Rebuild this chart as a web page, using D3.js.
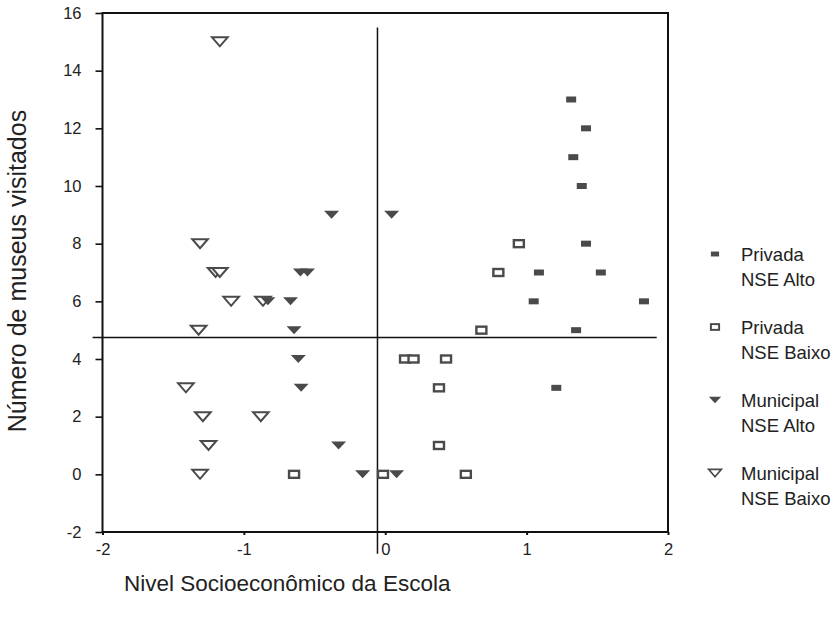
<!DOCTYPE html>
<html>
<head>
<meta charset="utf-8">
<script src="https://cdn.jsdelivr.net/npm/d3@7/dist/d3.min.js"></script>
<style>
  html, body { margin: 0; padding: 0; background: #fff; }
  svg { display: block; font-family: "Liberation Sans", Arial, sans-serif; }
</style>
</head>
<body>
<svg id="chart" width="834" height="622"></svg>
<script>
// ---- Data ----
const xTicks = [-2, -1, 0, 1, 2];
const yTicks = [-2, 0, 2, 4, 6, 8, 10, 12, 14, 16];

// Privada NSE Alto  [nse, museus]
const privadaAlto = [
  [1.315, 13], [1.42, 12], [1.33, 11], [1.39, 10], [1.42, 8],
  [1.087, 7], [1.525, 7], [1.05, 6], [1.83, 6], [1.35, 5], [1.21, 3]
];
// Privada NSE Baixo
const privadaBaixo = [
  [0.945, 8], [0.80, 7], [0.68, 5], [0.14, 4], [0.20, 4], [0.43, 4],
  [0.38, 3], [0.38, 1], [-0.016, 0], [0.57, 0], [-0.645, 0]
];
// Municipal NSE Alto
const municipalAlto = [
  [-0.38, 9], [0.045, 9], [-0.60, 7], [-0.55, 7], [-0.83, 6], [-0.67, 6],
  [-0.645, 5], [-0.615, 4], [-0.595, 3], [-0.33, 1], [-0.16, 0], [0.08, 0]
];
// Municipal NSE Baixo
const municipalBaixo = [
  [-1.17, 15], [-1.31, 8], [-1.20, 7], [-1.17, 7], [-1.09, 6], [-0.865, 6],
  [-1.32, 5], [-1.41, 3], [-1.29, 2], [-0.88, 2], [-1.25, 1], [-1.31, 0]
];

// Reference lines (means)
const refX = -0.055;
const refY = 4.75;

const seriesNames = [
  ["Privada", "NSE Alto"],
  ["Privada", "NSE Baixo"],
  ["Municipal", "NSE Alto"],
  ["Municipal", "NSE Baixo"]
];

// ---- Layout ----
const svg = d3.select("#chart");
const pL = 102.5, pR = 668, pT = 13, pB = 532;
const x = d3.scaleLinear().domain([-2, 2]).range([pL, pR]);
const y = d3.scaleLinear().domain([-2, 16]).range([pB, pT]);
const ink = "#4a4a4a";
const textCol = "#222";
const fmt = d => String(d); // plain hyphen-minus like the original

// Frame
svg.append("rect")
  .attr("x", pL).attr("y", pT)
  .attr("width", pR - pL).attr("height", pB - pT)
  .attr("fill", "none").attr("stroke", "#111").attr("stroke-width", 2);

// Y axis
const yAxis = svg.append("g").attr("transform", `translate(${pL},0)`)
  .call(d3.axisLeft(y).tickValues(yTicks).tickSize(7).tickPadding(14).tickFormat(fmt));
yAxis.select(".domain").remove();
yAxis.selectAll("line").attr("stroke", "#111").attr("stroke-width", 1.6);
yAxis.selectAll("text").attr("fill", textCol).style("font-size", "16.5px")
  .style("font-family", "'Liberation Sans', Arial, sans-serif");

// X axis
const xAxis = svg.append("g").attr("transform", `translate(0,${pB})`)
  .call(d3.axisBottom(x).tickValues(xTicks).tickSize(3).tickPadding(8).tickFormat(fmt));
xAxis.select(".domain").remove();
xAxis.selectAll("line").attr("stroke", "#111").attr("stroke-width", 2);
xAxis.selectAll("text").attr("fill", textCol).style("font-size", "16.5px")
  .style("font-family", "'Liberation Sans', Arial, sans-serif");

// Reference lines
svg.append("line")
  .attr("x1", x(refX)).attr("x2", x(refX))
  .attr("y1", y(15.5)).attr("y2", y(-2.75))
  .attr("stroke", "#111").attr("stroke-width", 1.5);
svg.append("line")
  .attr("x1", x(-2.07)).attr("x2", x(1.92))
  .attr("y1", y(refY)).attr("y2", y(refY))
  .attr("stroke", "#111").attr("stroke-width", 1.5);

// Marker drawers
function filledRect(g, cx, cy, s) {
  g.append("rect").attr("x", cx - 5 * s).attr("y", cy - 3 * s)
    .attr("width", 10 * s).attr("height", 6 * s).attr("fill", ink);
}
function openRect(g, cx, cy, s) {
  g.append("rect").attr("x", cx - 5 * s).attr("y", cy - 3.5 * s)
    .attr("width", 10 * s).attr("height", 7 * s)
    .attr("fill", "#fff").attr("stroke", ink).attr("stroke-width", 2.4 * s);
}
function filledTri(g, cx, cy, s) {
  const w = 7.5 * s, h = 8 * s;
  g.append("path")
    .attr("d", `M${cx - w},${cy - h / 2}L${cx + w},${cy - h / 2}L${cx},${cy + h / 2}Z`)
    .attr("fill", ink);
}
function openTri(g, cx, cy, s) {
  const w = 7.8 * s, h = 9 * s;
  g.append("path")
    .attr("d", `M${cx - w},${cy - h / 2}L${cx + w},${cy - h / 2}L${cx},${cy + h / 2}Z`)
    .attr("fill", "#fff").attr("stroke", ink).attr("stroke-width", 2 * s)
    .attr("stroke-linejoin", "miter");
}

const series = [
  { data: privadaAlto, draw: filledRect },
  { data: privadaBaixo, draw: openRect },
  { data: municipalAlto, draw: filledTri },
  { data: municipalBaixo, draw: openTri }
];

const marks = svg.append("g");
[series[3], series[1], series[2], series[0]].forEach(sr => {
  sr.data.forEach(d => sr.draw(marks, x(d[0]), y(d[1]), 1));
});

// Legend
const legend = svg.append("g");
series.forEach((sr, i) => {
  const yy = 255 + i * 73;
  sr.draw(legend, 715, yy - 1, 0.82);
  legend.append("text").attr("x", 741).attr("y", yy + 6)
    .attr("fill", textCol).style("font-size", "18.5px").text(seriesNames[i][0]);
  legend.append("text").attr("x", 741).attr("y", yy + 31)
    .attr("fill", textCol).style("font-size", "18.5px").text(seriesNames[i][1]);
});

// Axis titles
svg.append("text")
  .attr("transform", `translate(26,271) rotate(-90)`)
  .attr("text-anchor", "middle")
  .attr("fill", textCol).style("font-size", "25px")
  .text("Número de museus visitados");
svg.append("text")
  .attr("x", 124).attr("y", 591)
  .attr("fill", textCol).style("font-size", "22.5px")
  .text("Nivel Socioeconômico da Escola");
</script>
</body>
</html>
